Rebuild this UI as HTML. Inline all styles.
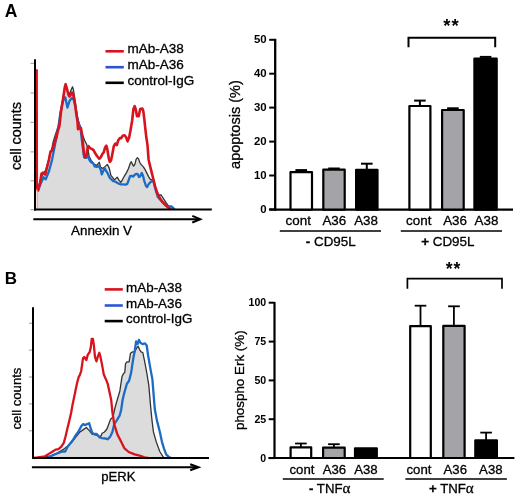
<!DOCTYPE html>
<html><head><meta charset="utf-8"><style>
html,body{margin:0;padding:0;background:#fff;}
body{width:520px;height:496px;overflow:hidden;font-family:"Liberation Sans", sans-serif;}
svg{display:block;will-change:transform;}
text.r{stroke:#000;stroke-width:0.3px;}
</style></head><body>
<svg width="520" height="496" viewBox="0 0 520 496" font-family='"Liberation Sans", sans-serif'>
<rect width="520" height="496" fill="#fff"/>
<text x="4.8" y="16.5" font-size="17.5" font-weight="bold" fill="#000">A</text>
<polygon points="37.5,209.6 37.5,190.0 40.0,182.0 42.0,176.0 44.0,172.5 46.0,169.5 48.0,162.0 50.0,154.0 52.0,148.0 53.0,142.4 55.0,136.0 57.0,130.0 59.0,124.0 61.0,110.0 63.0,98.0 64.8,87.0 65.6,84.5 67.5,91.0 69.5,94.0 71.5,89.0 72.5,86.8 73.5,90.0 75.0,100.0 77.0,115.0 78.0,120.0 80.5,127.0 82.6,135.1 84.6,140.2 86.6,144.2 88.1,150.2 89.1,156.3 91.1,160.3 94.2,164.4 96.7,165.4 99.2,162.3 100.7,167.4 102.7,168.4 105.2,166.4 107.3,164.4 109.3,168.4 110.9,175.3 114.5,179.9 117.2,177.1 119.2,180.6 120.8,182.3 122.4,179.8 124.5,175.8 126.5,172.6 128.5,168.5 130.1,163.7 131.3,161.7 132.5,164.5 133.7,166.1 134.9,164.1 136.1,159.3 137.4,157.7 138.6,158.9 139.8,162.5 141.4,164.9 143.4,166.9 145.4,170.2 147.0,173.4 148.6,176.6 150.3,179.4 151.9,179.8 153.5,182.0 155.9,189.2 158.3,195.0 161.2,195.0 163.6,198.8 166.0,202.7 168.8,206.1 170.5,208.5 172.0,209.4 172.0,209.6" fill="#dcdcdc" stroke="none"/>
<line x1="30.5" y1="63.3" x2="34.5" y2="63.3" stroke="#999" stroke-width="1"/>
<line x1="30.5" y1="93" x2="34.5" y2="93" stroke="#999" stroke-width="1"/>
<line x1="30.5" y1="122.3" x2="34.5" y2="122.3" stroke="#999" stroke-width="1"/>
<line x1="30.5" y1="151.9" x2="34.5" y2="151.9" stroke="#999" stroke-width="1"/>
<line x1="30.5" y1="180.8" x2="34.5" y2="180.8" stroke="#999" stroke-width="1"/>
<line x1="30.5" y1="209.7" x2="34.5" y2="209.7" stroke="#999" stroke-width="1"/>
<polyline points="37.5,190.0 40.0,182.0 42.0,176.0 44.0,172.5 46.0,169.5 48.0,162.0 50.0,154.0 52.0,148.0 53.0,142.4 55.0,136.0 57.0,130.0 59.0,124.0 61.0,110.0 63.0,98.0 64.8,87.0 65.6,84.5 67.5,91.0 69.5,94.0 71.5,89.0 72.5,86.8 73.5,90.0 75.0,100.0 77.0,115.0 78.0,120.0 80.5,127.0 82.6,135.1 84.6,140.2 86.6,144.2 88.1,150.2 89.1,156.3 91.1,160.3 94.2,164.4 96.7,165.4 99.2,162.3 100.7,167.4 102.7,168.4 105.2,166.4 107.3,164.4 109.3,168.4 110.9,175.3 114.5,179.9 117.2,177.1 119.2,180.6 120.8,182.3 122.4,179.8 124.5,175.8 126.5,172.6 128.5,168.5 130.1,163.7 131.3,161.7 132.5,164.5 133.7,166.1 134.9,164.1 136.1,159.3 137.4,157.7 138.6,158.9 139.8,162.5 141.4,164.9 143.4,166.9 145.4,170.2 147.0,173.4 148.6,176.6 150.3,179.4 151.9,179.8 153.5,182.0 155.9,189.2 158.3,195.0 161.2,195.0 163.6,198.8 166.0,202.7 168.8,206.1 170.5,208.5 172.0,209.4" fill="none" stroke="#333" stroke-width="1.3" stroke-linejoin="round"/>
<polyline points="37.9,191.4 40.5,184.1 43.6,177.3 45.7,179.4 48.9,171.5 52.0,160.0 55.0,144.9 56.8,134.0 58.4,127.0 60.4,113.0 62.5,103.0 64.3,97.5 65.3,97.5 67.4,107.6 69.5,101.0 71.9,98.1 73.5,99.0 75.5,107.0 77.5,119.0 79.0,124.7 80.5,128.0 82.7,147.2 84.1,157.3 86.1,157.8 88.1,156.3 89.6,160.3 91.1,162.3 93.1,163.3 94.7,166.4 96.7,166.9 98.7,165.9 100.7,169.4 101.8,174.4 104.5,168.1 107.2,172.6 109.9,178.0 112.7,180.8 115.4,181.7 118.1,183.4 120.4,184.3 122.8,184.3 125.3,184.7 127.3,183.9 128.5,180.6 130.1,176.2 131.7,175.8 133.3,176.6 134.5,175.0 136.1,173.8 137.8,174.2 139.0,177.0 140.2,176.2 141.8,173.0 143.0,175.8 144.2,180.6 145.8,185.5 147.0,187.1 148.6,184.3 150.3,182.3 152.3,181.0 153.5,181.5 155.4,189.2 157.8,196.9 161.2,200.8 165.0,204.6 168.8,206.5 171.7,206.5 174.6,209.4" fill="none" stroke="#1c6bc6" stroke-width="2.3" stroke-linejoin="round"/>
<polyline points="36.6,69.2 36.8,186.0 37.9,190.4 40.0,183.0 41.5,173.6 43.1,172.6 45.2,174.7 47.3,166.3 48.9,160.0 50.5,151.5 52.2,150.7 53.8,144.9 56.3,138.3 57.6,132.0 59.4,126.0 61.2,110.2 63.0,99.3 64.8,87.3 65.6,84.2 67.0,89.0 68.5,95.0 69.5,96.5 70.6,95.0 72.0,92.5 73.3,95.0 75.1,104.3 76.3,114.0 77.5,121.3 78.0,129.1 79.5,128.1 81.0,128.1 82.1,135.1 83.1,145.2 84.1,154.3 85.1,157.3 86.6,155.3 87.6,148.2 88.6,146.2 90.1,148.2 92.1,149.2 93.6,150.2 95.2,153.3 97.2,156.3 99.2,158.8 100.7,157.3 102.2,154.3 103.7,152.3 105.2,147.2 106.3,145.7 107.3,149.2 108.8,158.3 109.8,161.8 111.1,160.3 112.3,154.3 113.8,146.2 115.3,143.7 116.8,145.2 118.3,140.2 119.9,138.1 121.1,138.3 122.6,135.8 124.6,135.3 126.1,137.3 127.6,141.4 129.2,137.3 130.7,129.3 132.2,120.2 133.4,109.1 134.7,106.1 135.7,109.1 137.0,116.2 138.7,116.2 140.2,109.1 142.3,108.6 143.3,111.1 144.3,119.2 145.3,128.3 146.3,137.3 147.5,145.0 148.6,159.7 150.3,166.9 151.9,173.4 153.5,179.8 155.1,186.3 157.3,193.1 160.2,198.8 163.1,202.7 166.0,205.6 168.8,208.0 170.5,209.4" fill="none" stroke="#d7141e" stroke-width="2.6" stroke-linejoin="round"/>
<line x1="37.2" y1="190" x2="37.2" y2="209" stroke="#e88" stroke-width="1"/>
<line x1="35" y1="59.2" x2="35" y2="210.6" stroke="#000" stroke-width="2"/>
<line x1="34" y1="209.6" x2="211.8" y2="209.6" stroke="#000" stroke-width="2"/>
<line x1="33.3" y1="219.2" x2="199.5" y2="219.2" stroke="#000" stroke-width="2"/>
<polyline points="192.3,215.9 200.3,219.2 192.3,222.5" fill="none" stroke="#000" stroke-width="2"/>
<text class="r" x="71" y="235.4" font-size="13.4" fill="#000">Annexin V</text>
<text class="r" transform="translate(20.6,170) rotate(-90)" font-size="14.4" fill="#000">cell counts</text>
<line x1="105.5" y1="51.3" x2="123.8" y2="51.3" stroke="#d7141e" stroke-width="2.6"/>
<line x1="105.5" y1="67.2" x2="123.8" y2="67.2" stroke="#2d55d2" stroke-width="2.6"/>
<line x1="105.5" y1="82.8" x2="123.8" y2="82.8" stroke="#000" stroke-width="2.6"/>
<text class="r" x="127.6" y="53.4" font-size="13.5" fill="#000">mAb-A38</text>
<text class="r" x="127.6" y="69.4" font-size="13.5" fill="#000">mAb-A36</text>
<text class="r" x="127.6" y="85.3" font-size="13.5" fill="#000">control-IgG</text>
<line x1="269.2" y1="209.4" x2="275" y2="209.4" stroke="#000" stroke-width="2"/>
<text x="266.6" y="212.5" font-size="11.4" font-weight="bold" text-anchor="end" fill="#000">0</text>
<line x1="269.2" y1="175.5" x2="275" y2="175.5" stroke="#000" stroke-width="2"/>
<text x="266.6" y="178.6" font-size="11.4" font-weight="bold" text-anchor="end" fill="#000">10</text>
<line x1="269.2" y1="141.6" x2="275" y2="141.6" stroke="#000" stroke-width="2"/>
<text x="266.6" y="144.7" font-size="11.4" font-weight="bold" text-anchor="end" fill="#000">20</text>
<line x1="269.2" y1="107.6" x2="275" y2="107.6" stroke="#000" stroke-width="2"/>
<text x="266.6" y="110.7" font-size="11.4" font-weight="bold" text-anchor="end" fill="#000">30</text>
<line x1="269.2" y1="73.7" x2="275" y2="73.7" stroke="#000" stroke-width="2"/>
<text x="266.6" y="76.8" font-size="11.4" font-weight="bold" text-anchor="end" fill="#000">40</text>
<line x1="269.2" y1="39.8" x2="275" y2="39.8" stroke="#000" stroke-width="2"/>
<text x="266.6" y="42.9" font-size="11.4" font-weight="bold" text-anchor="end" fill="#000">50</text>
<line x1="275.2" y1="38.8" x2="275.2" y2="210.6" stroke="#000" stroke-width="2.3"/>
<line x1="269.2" y1="209.6" x2="513" y2="209.6" stroke="#000" stroke-width="2.2"/>
<text class="r" transform="translate(239.6,124.6) rotate(-90)" font-size="14.5" text-anchor="middle" fill="#000">apoptosis (%)</text>
<line x1="301.2" y1="172.0" x2="301.2" y2="170.1" stroke="#000" stroke-width="2"/>
<line x1="295.4" y1="170.1" x2="307.1" y2="170.1" stroke="#000" stroke-width="2"/>
<rect x="290.5" y="172.1" width="21.5" height="37.5" fill="#fff" stroke="#000" stroke-width="2.2" stroke-linejoin="round"/>
<line x1="334.0" y1="169.5" x2="334.0" y2="168.5" stroke="#000" stroke-width="2"/>
<line x1="328.2" y1="168.5" x2="339.8" y2="168.5" stroke="#000" stroke-width="2"/>
<rect x="323.3" y="169.6" width="21.4" height="40.0" fill="#a4a4a8" stroke="#000" stroke-width="2.2" stroke-linejoin="round"/>
<line x1="366.8" y1="169.7" x2="366.8" y2="163.7" stroke="#000" stroke-width="2"/>
<line x1="361.0" y1="163.7" x2="372.6" y2="163.7" stroke="#000" stroke-width="2"/>
<rect x="356.1" y="169.8" width="21.4" height="39.8" fill="#000" stroke="#000" stroke-width="2.2" stroke-linejoin="round"/>
<line x1="419.9" y1="105.9" x2="419.9" y2="100.6" stroke="#000" stroke-width="2"/>
<line x1="414.1" y1="100.6" x2="425.7" y2="100.6" stroke="#000" stroke-width="2"/>
<rect x="409.4" y="106.0" width="21.0" height="103.6" fill="#fff" stroke="#000" stroke-width="2.2" stroke-linejoin="round"/>
<line x1="452.9" y1="109.9" x2="452.9" y2="108.3" stroke="#000" stroke-width="2"/>
<line x1="447.1" y1="108.3" x2="458.7" y2="108.3" stroke="#000" stroke-width="2"/>
<rect x="442.1" y="110.0" width="21.6" height="99.6" fill="#a4a4a8" stroke="#000" stroke-width="2.2" stroke-linejoin="round"/>
<line x1="485.6" y1="58.6" x2="485.6" y2="56.9" stroke="#000" stroke-width="2"/>
<line x1="479.8" y1="56.9" x2="491.4" y2="56.9" stroke="#000" stroke-width="2"/>
<rect x="474.4" y="58.7" width="22.3" height="150.9" fill="#000" stroke="#000" stroke-width="2.2" stroke-linejoin="round"/>
<polyline points="408.5,47.3 408.5,37.8 495.2,37.8 495.2,47.3" fill="none" stroke="#000" stroke-width="2"/>
<text x="443.3" y="31.5" font-size="18.5" font-weight="bold" letter-spacing="0.9" fill="#000">**</text>
<text class="r" x="285.6" y="225.2" font-size="13.4" fill="#000">cont</text>
<text class="r" x="322.4" y="225.2" font-size="13.4" fill="#000">A36</text>
<text class="r" x="354.2" y="225.2" font-size="13.4" fill="#000">A38</text>
<text class="r" x="406.1" y="225.2" font-size="13.4" fill="#000">cont</text>
<text class="r" x="443.2" y="225.2" font-size="13.4" fill="#000">A36</text>
<text class="r" x="474.6" y="225.2" font-size="13.4" fill="#000">A38</text>
<line x1="279.8" y1="231" x2="381" y2="231" stroke="#000" stroke-width="1.5"/>
<line x1="400.8" y1="231" x2="502" y2="231" stroke="#000" stroke-width="1.5"/>
<text class="r" x="305.8" y="245.7" font-size="13.4" fill="#000"><tspan font-weight="bold">-</tspan> CD95L</text>
<text class="r" x="421.2" y="245.7" font-size="13.4" fill="#000"><tspan font-weight="bold">+</tspan> CD95L</text>
<text x="4.8" y="283.9" font-size="17" font-weight="bold" fill="#000">B</text>
<polygon points="40.0,457.9 40.0,457.6 50.8,455.9 56.5,453.5 61.3,450.6 64.2,448.7 68.1,445.8 71.9,442.0 75.8,437.1 79.6,432.3 83.0,429.9 86.3,427.5 89.2,430.4 92.1,434.2 96.0,435.0 99.5,436.3 101.0,436.0 102.1,433.3 104.5,432.0 106.9,429.0 108.7,424.2 110.6,419.3 113.0,416.9 114.8,408.5 117.2,400.0 119.9,390.7 122.0,376.6 123.4,373.8 124.8,372.4 125.5,363.9 126.9,361.8 129.1,361.8 130.5,353.3 132.6,351.9 134.7,351.9 136.8,347.7 138.2,346.2 139.7,349.8 141.1,351.9 142.8,352.6 144.6,361.1 146.7,372.4 148.8,385.1 150.6,406.3 152.0,420.4 153.4,431.7 156.2,441.6 159.8,451.5 163.3,457.1 165.0,458.0 165.0,457.9" fill="#dcdcdc" stroke="none"/>
<line x1="29" y1="323.2" x2="32.5" y2="323.2" stroke="#999" stroke-width="1"/>
<line x1="29" y1="350.1" x2="32.5" y2="350.1" stroke="#999" stroke-width="1"/>
<line x1="29" y1="377" x2="32.5" y2="377" stroke="#999" stroke-width="1"/>
<line x1="29" y1="403.9" x2="32.5" y2="403.9" stroke="#999" stroke-width="1"/>
<line x1="29" y1="430.8" x2="32.5" y2="430.8" stroke="#999" stroke-width="1"/>
<polyline points="40.0,457.6 50.8,455.9 56.5,453.5 61.3,450.6 64.2,448.7 68.1,445.8 71.9,442.0 75.8,437.1 79.6,432.3 83.0,429.9 86.3,427.5 89.2,430.4 92.1,434.2 96.0,435.0 99.5,436.3 101.0,436.0 102.1,433.3 104.5,432.0 106.9,429.0 108.7,424.2 110.6,419.3 113.0,416.9 114.8,408.5 117.2,400.0 119.9,390.7 122.0,376.6 123.4,373.8 124.8,372.4 125.5,363.9 126.9,361.8 129.1,361.8 130.5,353.3 132.6,351.9 134.7,351.9 136.8,347.7 138.2,346.2 139.7,349.8 141.1,351.9 142.8,352.6 144.6,361.1 146.7,372.4 148.8,385.1 150.6,406.3 152.0,420.4 153.4,431.7 156.2,441.6 159.8,451.5 163.3,457.1 165.0,458.0" fill="none" stroke="#333" stroke-width="1.3" stroke-linejoin="round"/>
<polyline points="47.9,457.4 50.8,456.3 54.6,454.4 58.5,453.0 62.3,451.5 65.2,451.5 67.6,446.7 70.0,443.8 72.9,440.0 75.8,435.2 78.7,431.3 81.1,426.5 83.0,424.1 85.4,425.1 87.3,424.1 89.2,423.2 90.7,428.5 92.1,432.5 93.6,433.9 96.7,433.9 99.7,437.5 102.1,438.1 105.7,438.5 107.5,439.3 110.0,436.9 112.4,432.0 114.2,424.2 116.6,420.6 119.6,415.7 121.2,409.7 122.6,400.0 124.1,393.6 126.9,383.7 129.1,380.8 131.2,372.4 133.3,358.2 134.7,351.2 136.1,341.3 137.5,344.1 139.0,339.9 140.4,342.7 142.5,344.1 145.0,343.4 146.7,345.5 148.1,355.4 150.3,368.1 152.4,379.4 153.4,392.0 154.8,409.1 156.9,420.4 159.8,431.7 161.9,441.6 164.0,448.7 166.1,454.3 169.0,457.1 171.0,458.0" fill="none" stroke="#1c6bc6" stroke-width="2.3" stroke-linejoin="round"/>
<polyline points="34.0,458.0 39.8,457.1 45.0,456.3 48.8,453.9 52.7,451.5 55.6,449.6 58.5,449.1 61.3,446.7 63.8,442.9 65.6,436.2 67.4,428.5 69.3,420.8 71.1,413.0 72.4,405.4 74.8,394.1 76.9,383.8 78.7,377.0 80.0,374.6 81.2,371.0 83.0,358.3 84.2,357.0 86.4,360.0 87.8,354.6 89.6,352.2 90.8,347.4 91.7,338.9 92.9,338.9 93.9,345.6 95.0,357.0 96.5,361.3 97.7,357.0 99.3,352.8 100.5,357.0 102.3,366.1 103.8,374.6 106.0,379.4 107.8,384.2 109.5,392.0 111.2,400.0 112.4,412.1 114.2,424.2 117.2,433.9 120.8,441.1 124.5,448.4 128.7,452.0 134.7,454.4 139.6,455.6 144.4,457.4 148.0,458.0" fill="none" stroke="#d7141e" stroke-width="2.3" stroke-linejoin="round"/>
<line x1="33" y1="307.2" x2="33" y2="458.9" stroke="#000" stroke-width="2"/>
<line x1="32" y1="457.9" x2="209" y2="457.9" stroke="#000" stroke-width="2"/>
<line x1="31.9" y1="467.2" x2="197.8" y2="467.2" stroke="#000" stroke-width="2"/>
<polyline points="190.2,464.2 198.5,467.2 190.2,470.2" fill="none" stroke="#000" stroke-width="2"/>
<text class="r" x="101.2" y="481.2" font-size="13.1" fill="#000">pERK</text>
<text class="r" transform="translate(20.6,429.5) rotate(-90)" font-size="13.1" fill="#000">cell counts</text>
<line x1="104.7" y1="289.4" x2="122.8" y2="289.4" stroke="#d7141e" stroke-width="2.6"/>
<line x1="104.7" y1="305.5" x2="122.8" y2="305.5" stroke="#2d55d2" stroke-width="2.6"/>
<line x1="104.7" y1="321.1" x2="122.8" y2="321.1" stroke="#000" stroke-width="2.6"/>
<text class="r" x="126.1" y="291.6" font-size="13.4" fill="#000">mAb-A38</text>
<text class="r" x="126.1" y="307.7" font-size="13.4" fill="#000">mAb-A36</text>
<text class="r" x="126.1" y="323.4" font-size="13.4" fill="#000">control-IgG</text>
<line x1="268.7" y1="458.1" x2="274.5" y2="458.1" stroke="#000" stroke-width="2"/>
<text x="266.2" y="461.7" font-size="10.6" font-weight="bold" text-anchor="end" fill="#000">0</text>
<line x1="268.7" y1="419.2" x2="274.5" y2="419.2" stroke="#000" stroke-width="2"/>
<text x="266.2" y="422.9" font-size="10.6" font-weight="bold" text-anchor="end" fill="#000">25</text>
<line x1="268.7" y1="380.4" x2="274.5" y2="380.4" stroke="#000" stroke-width="2"/>
<text x="266.2" y="384.0" font-size="10.6" font-weight="bold" text-anchor="end" fill="#000">50</text>
<line x1="268.7" y1="341.6" x2="274.5" y2="341.6" stroke="#000" stroke-width="2"/>
<text x="266.2" y="345.2" font-size="10.6" font-weight="bold" text-anchor="end" fill="#000">75</text>
<line x1="268.7" y1="302.7" x2="274.5" y2="302.7" stroke="#000" stroke-width="2"/>
<text x="266.2" y="306.3" font-size="10.6" font-weight="bold" text-anchor="end" fill="#000">100</text>
<line x1="274.5" y1="302" x2="274.5" y2="459" stroke="#000" stroke-width="2.2"/>
<line x1="268.5" y1="458" x2="514.4" y2="458" stroke="#000" stroke-width="2.2"/>
<text class="r" transform="translate(244,380.2) rotate(-90)" font-size="13.4" text-anchor="middle" fill="#000">phospho Erk (%)</text>
<line x1="300.9" y1="447.2" x2="300.9" y2="443.5" stroke="#000" stroke-width="1.8"/>
<line x1="295.1" y1="443.5" x2="306.7" y2="443.5" stroke="#000" stroke-width="1.8"/>
<rect x="290.6" y="447.3" width="20.6" height="10.7" fill="#fff" stroke="#000" stroke-width="2.2" stroke-linejoin="round"/>
<line x1="333.9" y1="447.5" x2="333.9" y2="444.2" stroke="#000" stroke-width="1.8"/>
<line x1="328.1" y1="444.2" x2="339.7" y2="444.2" stroke="#000" stroke-width="1.8"/>
<rect x="323.1" y="447.6" width="21.6" height="10.4" fill="#a4a4a8" stroke="#000" stroke-width="2.2" stroke-linejoin="round"/>
<rect x="355.0" y="448.4" width="21.8" height="9.6" fill="#000" stroke="#000" stroke-width="2.2" stroke-linejoin="round"/>
<line x1="420.5" y1="326.1" x2="420.5" y2="305.7" stroke="#000" stroke-width="1.8"/>
<line x1="414.7" y1="305.7" x2="426.3" y2="305.7" stroke="#000" stroke-width="1.8"/>
<rect x="410.2" y="326.2" width="20.6" height="131.8" fill="#fff" stroke="#000" stroke-width="2.2" stroke-linejoin="round"/>
<line x1="453.9" y1="325.7" x2="453.9" y2="306.3" stroke="#000" stroke-width="1.8"/>
<line x1="448.1" y1="306.3" x2="459.8" y2="306.3" stroke="#000" stroke-width="1.8"/>
<rect x="443.3" y="325.8" width="21.3" height="132.2" fill="#a4a4a8" stroke="#000" stroke-width="2.2" stroke-linejoin="round"/>
<line x1="486.1" y1="440.3" x2="486.1" y2="432.6" stroke="#000" stroke-width="1.8"/>
<line x1="480.3" y1="432.6" x2="491.9" y2="432.6" stroke="#000" stroke-width="1.8"/>
<rect x="475.3" y="440.4" width="21.6" height="17.6" fill="#000" stroke="#000" stroke-width="2.2" stroke-linejoin="round"/>
<polyline points="407.4,288.8 407.4,278.7 502,278.7 502,288.8" fill="none" stroke="#000" stroke-width="1.7"/>
<text x="445.8" y="274.6" font-size="17.5" font-weight="bold" letter-spacing="0.8" fill="#000">**</text>
<text class="r" x="289.5" y="474" font-size="13.2" fill="#000">cont</text>
<text class="r" x="322.7" y="474" font-size="13.2" fill="#000">A36</text>
<text class="r" x="354.2" y="474" font-size="13.2" fill="#000">A38</text>
<text class="r" x="406.5" y="474" font-size="13.2" fill="#000">cont</text>
<text class="r" x="443.5" y="474" font-size="13.2" fill="#000">A36</text>
<text class="r" x="479.1" y="474" font-size="13.2" fill="#000">A38</text>
<line x1="282.8" y1="479" x2="383.7" y2="479" stroke="#000" stroke-width="1.5"/>
<line x1="405.4" y1="479" x2="506.9" y2="479" stroke="#000" stroke-width="1.5"/>
<text class="r" x="309" y="492.7" font-size="13.2" fill="#000"><tspan font-weight="bold">-</tspan> TNF<tspan font-family="'Liberation Serif', serif" font-size="15">α</tspan></text>
<text class="r" x="429" y="492.7" font-size="13.2" fill="#000"><tspan font-weight="bold">+</tspan> TNF<tspan font-family="'Liberation Serif', serif" font-size="15">α</tspan></text>
</svg>
</body></html>
